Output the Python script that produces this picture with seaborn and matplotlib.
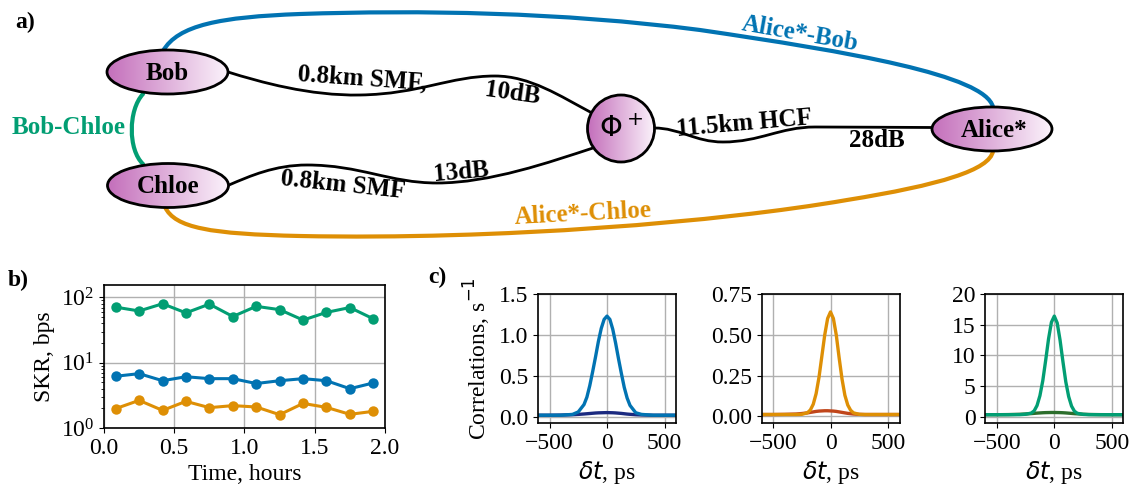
import numpy as np
import pandas as pd
import matplotlib
matplotlib.use("Agg")
import matplotlib.pyplot as plt
import seaborn as sns
from matplotlib.patches import Ellipse, Circle, PathPatch
from matplotlib.path import Path
from matplotlib.colors import LinearSegmentedColormap

# ---- data: panel b (secret key rate vs time) ----
time_h = [0.083, 0.25, 0.417, 0.583, 0.75, 0.917, 1.083, 1.25, 1.417, 1.583, 1.75, 1.917]
skr_bob_chloe = [71, 62, 80, 58, 79, 51, 73, 65, 45, 59, 70, 47]
skr_alice_bob = [6.2, 6.8, 5.3, 6.1, 5.7, 5.7, 4.8, 5.3, 5.7, 5.3, 4.0, 4.9]
skr_alice_chloe = [1.98, 2.65, 1.86, 2.56, 2.05, 2.2, 2.1, 1.6, 2.38, 2.07, 1.62, 1.8]

# ---- data: panel c (correlation histograms) ----
delay_ps = [-600, -500, -400, -300, -250, -200, -175, -150, -125, -100, -75, -50, -25, 0,
            25, 50, 75, 100, 125, 150, 175, 200, 250, 300, 400, 500, 600]
ab_main = [0.02, 0.02, 0.02, 0.03, 0.06, 0.15, 0.24, 0.38, 0.55, 0.73, 0.92, 1.08, 1.19, 1.23,
           1.19, 1.07, 0.90, 0.71, 0.53, 0.36, 0.23, 0.14, 0.05, 0.03, 0.02, 0.02, 0.02]
ab_acc = [0.02, 0.02, 0.022, 0.026, 0.03, 0.035, 0.038, 0.041, 0.044, 0.047, 0.049, 0.05, 0.051, 0.052,
          0.051, 0.05, 0.048, 0.045, 0.042, 0.038, 0.034, 0.031, 0.026, 0.023, 0.02, 0.02, 0.02]
ac_main = [0.012, 0.012, 0.012, 0.012, 0.013, 0.023, 0.04, 0.075, 0.14, 0.24, 0.37, 0.50, 0.60, 0.64,
           0.60, 0.50, 0.36, 0.23, 0.13, 0.07, 0.038, 0.022, 0.013, 0.012, 0.012, 0.012, 0.012]
ac_acc = [0.012, 0.012, 0.013, 0.015, 0.018, 0.022, 0.025, 0.028, 0.031, 0.033, 0.034, 0.035, 0.035, 0.034,
          0.033, 0.031, 0.028, 0.025, 0.022, 0.019, 0.017, 0.015, 0.013, 0.012, 0.012, 0.012, 0.012]
bc_main = [0.35, 0.35, 0.35, 0.36, 0.42, 0.62, 0.98, 1.85, 3.45, 5.9, 9.2, 12.7, 15.4, 16.4,
           15.3, 12.5, 9.0, 5.7, 3.3, 1.75, 0.92, 0.58, 0.40, 0.36, 0.35, 0.35, 0.35]
bc_acc = [0.35, 0.35, 0.37, 0.42, 0.47, 0.53, 0.57, 0.61, 0.64, 0.67, 0.69, 0.70, 0.71, 0.71,
          0.70, 0.69, 0.67, 0.64, 0.60, 0.56, 0.52, 0.49, 0.43, 0.39, 0.36, 0.35, 0.35]

pal = sns.color_palette("colorblind")
c_ab, c_ac, c_bc = pal[0], pal[1], pal[2]
dark_ab, dark_ac, dark_bc = "#1b2a80", "#c0461b", "#2c6e2c"

plt.rcParams["font.family"] = ["Liberation Serif", "DejaVu Sans"]
plt.rcParams["font.size"] = 17
plt.rcParams["axes.linewidth"] = 1.2
plt.rcParams["axes.grid"] = True
plt.rcParams["grid.color"] = "#b0b0b0"
plt.rcParams["grid.linewidth"] = 1.0

fig = plt.figure(figsize=(11.32, 4.94), dpi=100)

# ---- panel a: network sketch in pixel coordinates ----
ax0 = fig.add_axes([0, 0, 1, 1])
ax0.set_xlim(0, 1132)
ax0.set_ylim(494, 0)
ax0.axis("off")

node_cmap = LinearSegmentedColormap.from_list("node", ["#c46fbb", "#fbf3fb"])


def curve(pts, color, lw):
    codes = [Path.MOVETO] + [Path.CURVE4] * (len(pts) - 1)
    ax0.add_patch(PathPatch(Path(pts, codes), fill=False, edgecolor=color, lw=lw,
                            capstyle="round", zorder=2))


def node(patch, x, y, w, h):
    patch.set_facecolor("none")
    patch.set_edgecolor("black")
    patch.set_linewidth(2)
    patch.set_zorder(4)
    ax0.add_patch(patch)
    grad = np.linspace(0, 1, 256).reshape(1, -1)
    im = ax0.imshow(grad, cmap=node_cmap, extent=(x - w / 2, x + w / 2, y + h / 2, y - h / 2),
                    aspect="auto", zorder=3)
    im.set_clip_path(patch)


# fibre links
curve([(228, 72), (260, 82), (310, 96), (360, 95), (420, 94), (450, 76), (495, 76),
       (530, 76), (560, 96), (592, 113)], "black", 2)
curve([(229, 185), (250, 176), (275, 165), (307, 165), (360, 165), (390, 183), (437, 183),
       (490, 183), (550, 162), (593, 148)], "black", 2)
curve([(654, 128), (680, 128), (695, 142), (723, 142), (760, 142), (780, 127), (815, 127),
       (860, 127), (900, 127.5), (933, 127.5)], "black", 2)
# key links
curve([(163, 51), (178, 25), (220, 17), (300, 14), (420, 10), (560, 12), (700, 30),
       (850, 52), (985, 75), (993, 107)], c_ab, 3)
curve([(165, 207), (175, 228), (210, 234), (300, 236), (500, 240), (720, 222), (847, 200),
       (940, 185), (990, 170), (993, 151)], c_ac, 3)
curve([(143, 94), (128, 110), (128, 150), (143, 164)], c_bc, 3)

node(Ellipse((167.5, 72), 121, 44), 167.5, 72, 121, 44)
node(Ellipse((168, 185.5), 121, 44), 168, 185.5, 121, 44)
node(Circle((621, 128.5), 33.5), 621, 128.5, 67, 67)
node(Ellipse((992, 129), 120, 44), 992, 129, 120, 44)

bold = dict(fontweight="bold", fontsize=18, ha="center", va="center", rotation_mode="anchor")
ax0.text(167.5, 73, "Bob", **bold, zorder=5)
ax0.text(168, 186, "Chloe", **bold, zorder=5)
ax0.text(994, 130, "Alice*", **bold, zorder=5)
ax0.text(621, 129, r"$\Phi^+$", fontsize=21, ha="center", va="center", zorder=5)
ax0.text(362, 78, "0.8km SMF,", rotation=-4, **bold)
ax0.text(512, 93, "10dB", rotation=-8, **bold)
ax0.text(343, 185, "0.8km SMF", rotation=-6, **bold)
ax0.text(461, 172, "13dB", rotation=5, **bold)
ax0.text(744, 124, "11.5km HCF", rotation=5, **bold)
ax0.text(877, 140, "28dB", **bold)
ax0.text(800, 34, "Alice*-Bob", rotation=-10, color=c_ab, **bold)
ax0.text(583, 214, "Alice*-Chloe", rotation=3, color=c_ac, **bold)
ax0.text(69, 127, "Bob-Chloe", color=c_bc, **bold)
ax0.text(25, 22, "a)", fontweight="bold", fontsize=17, ha="center", va="center")
ax0.text(18, 280, "b)", fontweight="bold", fontsize=17, ha="center", va="center")
ax0.text(437, 277, "c)", fontweight="bold", fontsize=17, ha="center", va="center")

# ---- panel b ----
W, H = 1132, 494
axb = fig.add_axes([104 / W, (H - 428) / H, 281 / W, 143 / H])
df_b = pd.DataFrame({
    "time": time_h * 3,
    "skr": skr_bob_chloe + skr_alice_bob + skr_alice_chloe,
    "pair": ["Bob-Chloe"] * 12 + ["Alice*-Bob"] * 12 + ["Alice*-Chloe"] * 12,
})
sns.lineplot(data=df_b, x="time", y="skr", hue="pair", ax=axb, legend=False, errorbar=None,
             palette={"Bob-Chloe": c_bc, "Alice*-Bob": c_ab, "Alice*-Chloe": c_ac},
             marker="o", markersize=7.5, markeredgewidth=0, lw=2.2)
axb.set_yscale("log")
axb.set_ylim(1, 155)
axb.set_xlim(0, 2.0)
axb.set_xticks([0, 0.5, 1.0, 1.5, 2.0])
axb.set_xlabel("Time, hours")
axb.set_ylabel("SKR, bps")

# ---- panel c ----
curves = [(ab_acc, ab_main, dark_ab, c_ab, (-0.075, 1.5), [0, 0.5, 1.0, 1.5]),
          (ac_acc, ac_main, dark_ac, c_ac, (-0.04, 0.75), [0, 0.25, 0.5, 0.75]),
          (bc_acc, bc_main, dark_bc, c_bc, (-1, 20), [0, 5, 10, 15, 20])]
lefts = [538, 761.5, 985.3]
for i, (acc, main, cd, cm, ylim, yt) in enumerate(curves):
    ax = fig.add_axes([lefts[i] / W, (H - 423) / H, 138 / W, 129 / H])
    sns.lineplot(x=delay_ps, y=acc, color=cd, lw=2.4, ax=ax)
    sns.lineplot(x=delay_ps, y=main, color=cm, lw=2.4, ax=ax)
    ax.set_xlim(-600, 600)
    ax.set_ylim(*ylim)
    ax.set_yticks(yt)
    ax.set_xticks([-500, 0, 500])
    ax.set_xlabel(r"$\delta t$, ps")
    if i == 0:
        ax.set_ylabel("Correlations, s$^{-1}$")

fig.savefig("out.png", dpi=100)
